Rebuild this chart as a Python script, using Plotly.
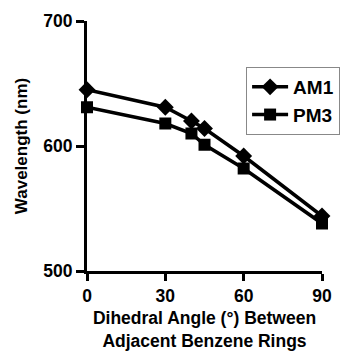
import plotly.graph_objects as go

angles = [0, 30, 40, 45, 60, 90]
am1 = [645, 631, 620, 614, 592, 544]
pm3 = [631, 618, 610, 601, 582, 538]
x_ticks = [0, 30, 60, 90]
y_ticks = [500, 600, 700]

font_family = "Liberation Sans, Arial, sans-serif"

fig = go.Figure()
fig.add_trace(go.Scatter(x=angles, y=am1, name="<b>AM1</b>", mode="lines+markers",
                         line=dict(color="black", width=3.5),
                         marker=dict(symbol="diamond", size=13, color="black"),
                         cliponaxis=False))
fig.add_trace(go.Scatter(x=angles, y=pm3, name="<b>PM3</b>", mode="lines+markers",
                         line=dict(color="black", width=3.5),
                         marker=dict(symbol="square", size=12, color="black"),
                         cliponaxis=False))

fig.update_layout(
    width=340, height=354,
    margin=dict(l=87, r=18, t=21, b=83, autoexpand=False),
    plot_bgcolor="white", paper_bgcolor="white",
    font=dict(family=font_family, size=16, color="black"),
    showlegend=True,
    legend=dict(x=0.677, y=0.816, xanchor="left", yanchor="top",
                bgcolor="white", bordercolor="#888", borderwidth=1,
                font=dict(family=font_family, size=19, color="black"),
                itemwidth=36, tracegroupgap=0),
    xaxis=dict(range=[0, 90], tickvals=x_ticks,
               ticktext=[f"<b>{v}</b>" for v in x_ticks],
               ticks="outside", ticklen=7, tickwidth=3,
               tickcolor="black", showline=True, linecolor="black", linewidth=3,
               showgrid=False, zeroline=False, automargin=False,
               tickfont=dict(family=font_family, size=17.5),
               title=dict(text="<b>Dihedral Angle (°) Between<br>Adjacent Benzene Rings</b>",
                          font=dict(family=font_family, size=17.5), standoff=7)),
    yaxis=dict(range=[500, 700], tickvals=y_ticks,
               ticktext=[f"<b>{v}</b>" for v in y_ticks],
               ticks="outside", ticklen=8, tickwidth=3,
               tickcolor="black", showline=True, linecolor="black", linewidth=3,
               showgrid=False, zeroline=False, automargin=False,
               tickfont=dict(family=font_family, size=17.5),
               title=dict(text="<b>Wavelength (nm)</b>",
                          font=dict(family=font_family, size=17), standoff=12)),
)

fig.write_html("out.html")
